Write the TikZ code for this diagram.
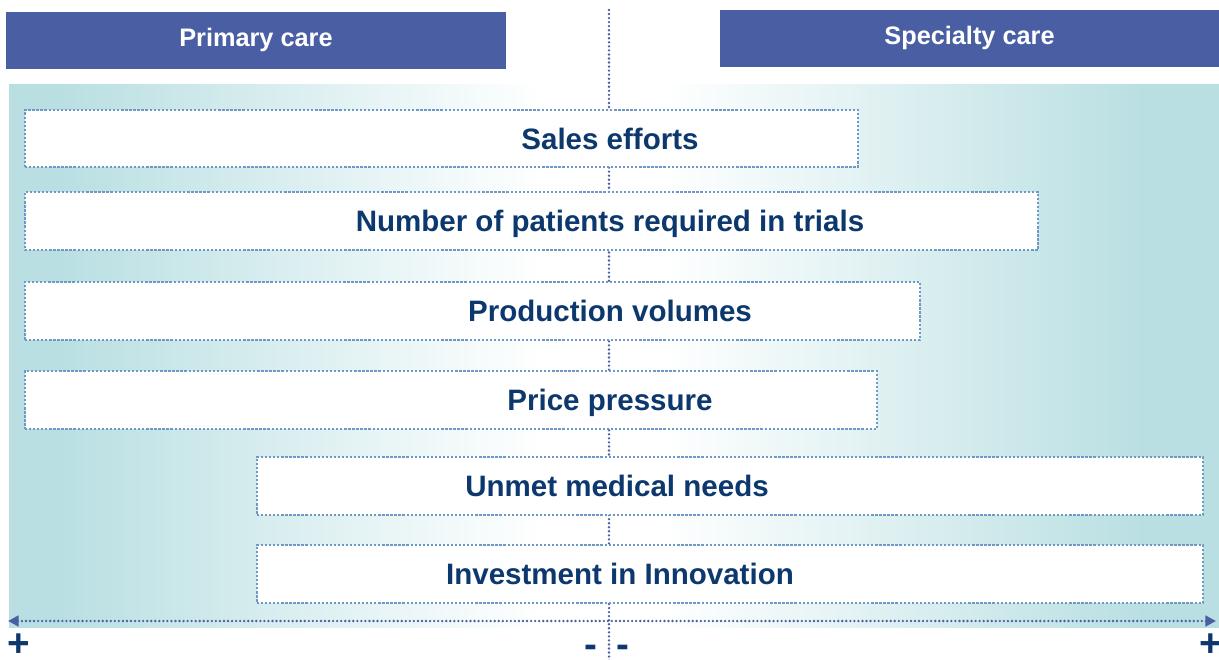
\documentclass[tikz,border=0pt]{standalone}
\usepackage{fontspec}
\setmainfont{Liberation Sans}
\usetikzlibrary{arrows.meta,positioning,fit}
\definecolor{headblue}{RGB}{74,95,163}
\definecolor{textblue}{RGB}{12,56,110}
\definecolor{boxline}{RGB}{110,152,198}
\definecolor{bgteal}{RGB}{185,223,226}
\pgfdeclarehorizontalshading{carefade}{100bp}{color(0bp)=(bgteal); color(27bp)=(bgteal); color(47bp)=(white); color(52bp)=(white); color(72bp)=(bgteal); color(100bp)=(bgteal)}

\begin{document}
\begin{tikzpicture}[x=0.02cm,y=-0.02cm,
		header/.style={fill=headblue, text=white, font=\fontsize{14.4}{17}\selectfont\bfseries, minimum height=1.14cm, inner sep=0pt, text height=0.72em, text depth=0pt},
		factor/.style={draw=boxline, fill=white, line width=1.4pt, dash pattern=on 1.3pt off 1.0pt, inner sep=0pt},
		factortext/.style={text=textblue, font=\fontsize{16.8}{20}\selectfont\bfseries, inner sep=0pt, anchor=base},
		sign/.style={text=textblue, font=\fontsize{22}{26}\selectfont\bfseries, inner sep=0pt, anchor=base, text height=0.6em, text depth=0pt},
		scaleline/.style={draw=headblue, line width=1.5pt, line cap=round, dash pattern=on 0pt off 2.3pt}]
		\useasboundingbox (0,0) rectangle (1219,659);
		\shade[shading=carefade] (9,84) rectangle (1219,627);

		% headers
		\node[header, minimum width=10cm] (primary) at (256,40.5) {Primary care};
		\node[header, minimum width=9.98cm] (specialty) at (969.5,38.5) {Specialty care};

		% centre line and scale
		\coordinate (top) at (609,10);
		\coordinate (bottom) at (609,662);
		\coordinate (left) at (8,621);
		\coordinate (right) at (1216,621);
		\draw[scaleline] (top) -- (bottom);
		\draw[scaleline, {Triangle[length=6pt,width=6pt]}-{Triangle[length=6pt,width=6pt]}] (left) -- (right);

		% factors
		\foreach \nm/\xa/\ya/\xb/\yb/\tx/\txt in {
			sales/25/110/858/167/610/Sales efforts,
			patients/25/192/1038/250/610/Number of patients required in trials,
			volumes/25/282/920/340/610/Production volumes,
			price/25/371/877/429/610/Price pressure,
			needs/257/457/1203/515/617/Unmet medical needs,
			invest/257/545/1203/603/620/Investment in Innovation}
		{
			\node[factor, fit={(\xa,\ya) (\xb,\yb)}] (\nm) {};
			\node[factortext] (\nm-text) at (\tx,{(\ya+\yb)/2+10.5}) {\txt};
		}

		% ends of the scale
		\node[sign] (plusL) at (18.5,656) {+};
		\node[sign] (minusL) at (590.5,657) {-};
		\node[sign] (minusR) at (622.5,657) {-};
		\node[sign] (plusR) at (1210.5,656) {+};
	\end{tikzpicture}
\end{document}
